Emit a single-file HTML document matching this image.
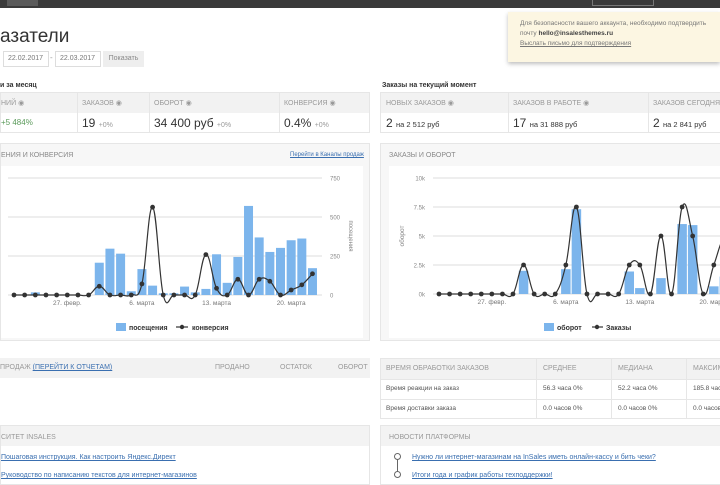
<!DOCTYPE html>
<html><head><meta charset="utf-8"><style>
body{margin:0;width:720px;height:480px;overflow:hidden;background:#fff;font-family:"Liberation Sans","DejaVu Sans",sans-serif;position:relative;color:#333}
.a{position:absolute;white-space:nowrap}
.t{font-size:7px;color:#999;text-transform:uppercase}
.cell{position:absolute;border-right:1px solid #e6e6e6;height:100%;top:0}
a{color:#3a6fb0;text-decoration:underline}
.lk{font-size:7px}
</style></head><body>
<div class="a" style="left:0;top:0;width:720px;height:8px;background:#3a3a3a"></div>
<div class="a" style="left:7px;top:0;width:31px;height:6px;background:#5a5a5a"></div>
<div class="a" style="left:592px;top:0;width:60px;height:5px;border:1px solid #777;border-top:none"></div>

<div class="a" style="left:0;top:26px;font-size:19px;color:#333">азатели</div>
<div class="a" style="left:3px;top:51px;width:44px;height:14px;border:1px solid #ddd;font-size:7px;color:#777;line-height:14px;text-indent:4px">22.02.2017</div>
<div class="a" style="left:50px;top:53px;font-size:8px;color:#999">-</div>
<div class="a" style="left:55px;top:51px;width:44px;height:14px;border:1px solid #ddd;font-size:7px;color:#777;line-height:14px;text-indent:4px">22.03.2017</div>
<div class="a" style="left:103px;top:51px;width:41px;height:16px;background:#eee;font-size:7px;color:#888;line-height:16px;text-align:center">Показать</div>

<div class="a" style="left:508px;top:12px;width:212px;height:50px;background:#fcf6e2;box-shadow:0 2px 4px rgba(0,0,0,.25);font-size:6.5px;color:#777;line-height:10px;padding:7px 0 0 12px;box-sizing:border-box">Для безопасности вашего аккаунта, необходимо подтвердить<br>почту <b style="color:#444">hello@insalesthemes.ru</b><br><a style="color:#777">Выслать письмо для подтверждения</a></div>

<div class="a" style="left:0;top:82px;font-size:7px;font-weight:bold">и за месяц</div>
<div class="a" style="left:0;top:92px;width:370px;height:41px;border:1px solid #e6e6e6;box-sizing:border-box">
 <div class="a" style="left:0;top:0;width:100%;height:20px;background:#f2f2f2"></div>
 <div class="cell" style="left:76px"></div><div class="cell" style="left:148px"></div><div class="cell" style="left:278px"></div>
 <div class="a t" style="left:0;top:6px">ний ◉</div><div class="a t" style="left:81px;top:6px">Заказов ◉</div><div class="a t" style="left:153px;top:6px">Оборот ◉</div><div class="a t" style="left:283px;top:6px">Конверсия ◉</div>
 <div class="a" style="left:0;top:25px;font-size:8px;color:#5a9a5a">+5 484%</div>
 <div class="a" style="left:81px;top:23px;font-size:12px">19 <span style="font-size:7px;color:#999">+0%</span></div>
 <div class="a" style="left:153px;top:23px;font-size:12px">34 400 руб <span style="font-size:7px;color:#999">+0%</span></div>
 <div class="a" style="left:283px;top:23px;font-size:12px">0.4% <span style="font-size:7px;color:#999">+0%</span></div>
</div>
<div class="a" style="left:382px;top:82px;font-size:7px;font-weight:bold">Заказы на текущий момент</div>
<div class="a" style="left:380px;top:92px;width:345px;height:41px;border:1px solid #e6e6e6;box-sizing:border-box">
 <div class="a" style="left:0;top:0;width:100%;height:20px;background:#f2f2f2"></div>
 <div class="cell" style="left:127px"></div><div class="cell" style="left:267px"></div>
 <div class="a t" style="left:5px;top:6px">Новых заказов ◉</div><div class="a t" style="left:132px;top:6px">Заказов в работе ◉</div><div class="a t" style="left:272px;top:6px">Заказов сегодня ◉</div>
 <div class="a" style="left:5px;top:23px;font-size:12px">2 <span style="font-size:7.5px">на 2 512 руб</span></div>
 <div class="a" style="left:132px;top:23px;font-size:12px">17 <span style="font-size:7.5px">на 31 888 руб</span></div>
 <div class="a" style="left:272px;top:23px;font-size:12px">2 <span style="font-size:7.5px">на 2 841 руб</span></div>
</div>

<div class="a" style="left:0;top:143px;width:370px;height:198px;border:1px solid #e6e6e6;background:#f7f7f7;box-sizing:border-box">
 <div class="a t" style="left:0;top:8px;color:#888">ения и конверсия</div>
 <a class="a lk" style="left:289px;top:8px;font-size:6px">Перейти в Каналы продаж</a>
 <div class="a" style="left:0;top:22px;width:362px;height:172px;background:#fff"></div>
</div>
<div class="a" style="left:380px;top:143px;width:345px;height:198px;border:1px solid #e6e6e6;background:#f7f7f7;box-sizing:border-box">
 <div class="a t" style="left:8px;top:8px;color:#888">Заказы и оборот</div>
 <div class="a" style="left:8px;top:22px;width:340px;height:172px;background:#fff"></div>
</div>
<svg class="a" id="chart" style="left:0;top:0" width="720" height="480"></svg>

<div class="a" style="left:0;top:358px;width:370px;height:60px">
 <div class="a" style="left:0;top:0;width:100%;height:20px;background:#f2f2f2"></div>
 <div class="a t" style="left:0;top:6px">продаж <a>(перейти к отчетам)</a></div>
 <div class="a t" style="left:215px;top:6px">Продано</div><div class="a t" style="left:280px;top:6px">Остаток</div><div class="a t" style="left:338px;top:6px">Оборот</div>
</div>
<div class="a" style="left:380px;top:358px;width:345px;height:61px;border:1px solid #e6e6e6;box-sizing:border-box;font-size:6.5px;color:#555">
 <div class="a" style="left:0;top:0;width:100%;height:20px;background:#f2f2f2"></div>
 <div class="a" style="left:0;top:40px;width:100%;border-top:1px solid #e6e6e6"></div>
 <div class="a" style="left:0;top:20px;width:100%;border-top:1px solid #e6e6e6"></div>
 <div class="cell" style="left:155px"></div><div class="cell" style="left:230px"></div><div class="cell" style="left:305px"></div>
 <div class="a t" style="left:5px;top:6px">Время обработки заказов</div><div class="a t" style="left:162px;top:6px">Среднее</div><div class="a t" style="left:237px;top:6px">Медиана</div><div class="a t" style="left:312px;top:6px">Максимум</div>
 <div class="a" style="left:5px;top:26px">Время реакции на заказ</div><div class="a" style="left:162px;top:26px">56.3 часа 0%</div><div class="a" style="left:237px;top:26px">52.2 часа 0%</div><div class="a" style="left:312px;top:26px">185.8 часа</div>
 <div class="a" style="left:5px;top:46px">Время доставки заказа</div><div class="a" style="left:162px;top:46px">0.0 часов 0%</div><div class="a" style="left:237px;top:46px">0.0 часов 0%</div><div class="a" style="left:312px;top:46px">0.0 часов</div>
</div>

<div class="a" style="left:0;top:425px;width:370px;height:60px;border:1px solid #e6e6e6;box-sizing:border-box">
 <div class="a" style="left:0;top:0;width:100%;height:20px;background:#f3f3f3"></div>
 <div class="a t" style="left:0;top:8px">ситет InSales</div>
 <a class="a lk" style="left:0;top:28px">Пошаговая инструкция. Как настроить Яндекс.Директ</a>
 <a class="a lk" style="left:0;top:46px">Руководство по написанию текстов для интернет-магазинов</a>
</div>
<div class="a" style="left:380px;top:425px;width:345px;height:60px;border:1px solid #e6e6e6;box-sizing:border-box">
 <div class="a" style="left:0;top:0;width:100%;height:20px;background:#f3f3f3"></div>
 <div class="a t" style="left:8px;top:8px">Новости платформы</div>
 <div class="a" style="left:16px;top:31px;width:1px;height:18px;background:#666"></div>
 <div class="a" style="left:13px;top:27px;width:5px;height:5px;border:1px solid #666;border-radius:50%;background:#fff"></div>
 <div class="a" style="left:13px;top:45px;width:5px;height:5px;border:1px solid #666;border-radius:50%;background:#fff"></div>
 <a class="a lk" style="left:31px;top:28px">Нужно ли интернет-магазинам на InSales иметь онлайн-кассу и бить чеки?</a>
 <a class="a lk" style="left:31px;top:46px">Итоги года и график работы техподдержки!</a>
</div>

<script>
const days = ["22","23","24","25","26","27","28","1","2","3","4","5","6","7","8","9","10","11","12","13","14","15","16","17","18","19","20","21","22"];
const visits = [0,0,17,0,0,0,0,0,207,297,265,24,166,60,11,11,54,17,39,261,78,244,571,369,276,302,351,362,172];
const conversion = [0,0,0,0,0,0,0,0,0.56,0,0,0,0.71,5.63,0,0,0,0,2.59,0.43,0,1.01,0,1.01,0.88,0,0.32,0.65,1.36];
const visitTicks = [0,250,500,750];
const revenue = [0,0,0,0,0,0,0,0,2000,0,0,0,2140,7310,0,0,0,0,1940,510,0,1370,0,6030,5940,0,660,1500,800];
const orders = [0,0,0,0,0,0,0,0,1,0,0,0,1,3,0,0,0,0,1,1,0,2,0,3,2,0,1,2,2];
const revenueTicks = [0,2500,5000,7500,10000];
const revenueTickLabels = ["0k","2.5k","5k","7.5k","10k"];
const xLabels = [[5,"27. февр."],[12,"6. марта"],[19,"13. марта"],[26,"20. марта"]];

const svg = document.getElementById('chart');
const NS = 'http://www.w3.org/2000/svg';
function mk(tag, at, txt){const e=document.createElementNS(NS,tag);for(const k in at)e.setAttribute(k,at[k]);if(txt!=null)e.textContent=txt;svg.appendChild(e);return e;}
function spline(pts){let d='M'+pts[0][0]+','+pts[0][1];for(let i=0;i<pts.length-1;i++){const p0=pts[Math.max(0,i-1)],p1=pts[i],p2=pts[i+1],p3=pts[Math.min(pts.length-1,i+2)];const t=0.2;d+=' C'+(p1[0]+(p2[0]-p0[0])*t)+','+(p1[1]+(p2[1]-p0[1])*t)+' '+(p2[0]-(p3[0]-p1[0])*t)+','+(p2[1]-(p3[1]-p1[1])*t)+' '+p2[0]+','+p2[1];}return d;}

function drawChart(o){
  const x=i=>o.x0+i*o.step, y=v=>o.y0-v/o.max*(o.y0-o.y1), yl=v=>o.y0-v/o.lmax*(o.y0-o.y1);
  o.ticks.forEach((t,k)=>{
    const g=mk('line',{x1:o.gx0,x2:o.gx1,y1:y(t),y2:y(t),stroke:'#ddd','stroke-width':1});
    
    
    const l=mk('text',{x:o.tx,y:y(t)+2.5,'font-size':6,fill:'#888','text-anchor':o.anchor},o.tl[k]);
    
    
  });
  o.bars.forEach((v,i)=>{
    if(x(i)>725||v<=0)return;
    const r=mk('rect',{x:x(i)-o.bw/2,y:y(v),width:o.bw,height:y(0)-y(v),fill:'#7cb5ec'});
    
    
  });
  const pts=o.line.map((v,i)=>[x(i),yl(v)]);
  const p=mk('path',{d:spline(pts),fill:'none',stroke:'#333','stroke-width':1.2});
  
  
  pts.forEach((q,i)=>{if(q[0]>725)return;const c=mk('circle',{cx:q[0],cy:q[1],r:2.4,fill:'#333'});
    
    });
  xLabels.forEach(([i,s])=>{const t=mk('text',{x:x(i),y:o.y0+10,'font-size':6.5,fill:'#777','text-anchor':'middle'},s);
    
    });
}
drawChart({x0:14,step:10.66,y0:295,y1:178,max:750,lmax:7.5,bw:9,ticks:visitTicks,tl:visitTicks.map(String),gx0:8,gx1:322,tx:330,anchor:'start',bars:visits,line:conversion,lineName:'conversion-line'});
drawChart({x0:439,step:10.57,y0:294,y1:178,max:10000,lmax:4,bw:9.5,ticks:revenueTicks,tl:revenueTickLabels,gx0:433,gx1:720,tx:425,anchor:'end',bars:revenue,line:orders,lineName:'orders-line'});

const at=(tag,a,t,n)=>{const e=mk(tag,a,t);return e;};
at('text',{x:349,y:236,'font-size':6,fill:'#888','text-anchor':'middle',transform:'rotate(90 349 236)'},'посещения','right-axis-title');
at('text',{x:404,y:236,'font-size':6.5,fill:'#888','text-anchor':'middle',transform:'rotate(-90 404 236)'},'оборот','left-axis-title');
at('rect',{x:116,y:323,width:10,height:8,fill:'#7cb5ec'},null,'legend-visits-swatch');
at('text',{x:129,y:330,'font-size':7,fill:'#333','font-weight':'bold'},'посещения','legend-visits');
at('line',{x1:176,x2:188,y1:327,y2:327,stroke:'#333','stroke-width':1.2},null,'legend-conversion-line');
at('circle',{cx:182,cy:327,r:2.2,fill:'#333'},null,'legend-conversion-dot');
at('text',{x:192,y:330,'font-size':7,fill:'#333','font-weight':'bold'},'конверсия','legend-conversion');
at('rect',{x:544,y:323,width:10,height:8,fill:'#7cb5ec'},null,'legend-revenue-swatch');
at('text',{x:557,y:330,'font-size':7,fill:'#333','font-weight':'bold'},'оборот','legend-revenue');
at('line',{x1:592,x2:603,y1:327,y2:327,stroke:'#333','stroke-width':1.2},null,'legend-orders-line');
at('circle',{cx:597,cy:327,r:2.2,fill:'#333'},null,'legend-orders-dot');
at('text',{x:606,y:330,'font-size':7,fill:'#333','font-weight':'bold'},'Заказы','legend-orders');
</script>
</body></html>
